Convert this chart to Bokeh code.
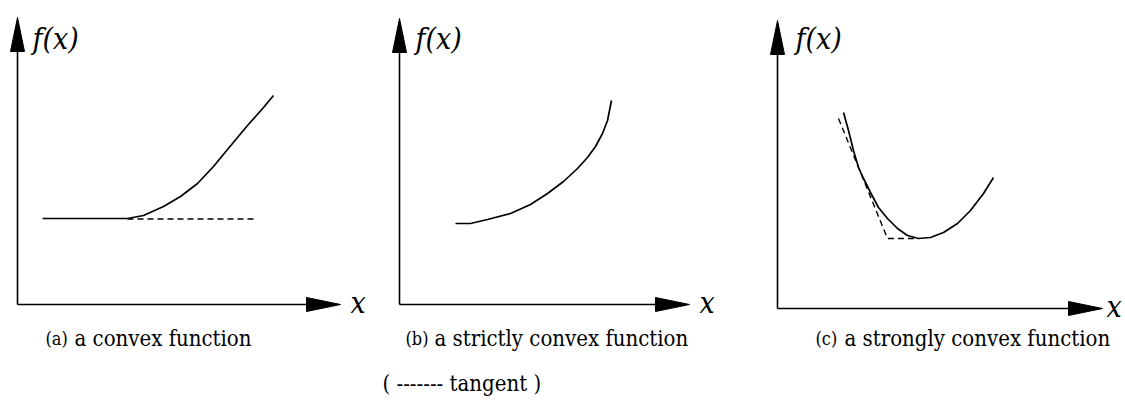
from bokeh.plotting import figure
from bokeh.layouts import row
from bokeh.models import Range1d
from bokeh.core.properties import value
from bokeh.embed import file_html
from bokeh.resources import INLINE

# Curve samples for each panel; units are relative to the axes' corner.
# (a) convex: flat, then rising
a_x = [2.5, 11.0, 12.6, 14.6, 16.3, 18.0, 19.6, 21.0, 23.0, 24.6, 25.6]
a_f = [8.6, 8.6, 8.9, 9.8, 10.8, 12.1, 13.8, 15.5, 17.9, 19.7, 20.9]
a_tan_x = [11.0, 24.0]
a_tan_f = [8.55, 8.55]

# (b) strictly convex
b_x = [5.6, 7.1, 8.8, 11.1, 13.1, 14.8, 16.4, 17.8, 18.8, 19.6, 20.3, 20.8, 21.2]
b_f = [8.1, 8.1, 8.5, 9.1, 10.0, 11.1, 12.3, 13.6, 14.7, 15.8, 17.1, 18.4, 20.4]

# (c) strongly convex, with two tangent pieces
c_x = [6.6, 7.1, 7.6, 8.1, 8.6, 9.3, 10.1, 11.0, 12.0, 13.0, 14.1, 15.3, 16.6, 18.0, 19.3, 20.6, 21.6]
c_f = [19.6, 17.8, 15.8, 14.1, 13.0, 11.6, 10.1, 9.0, 8.0, 7.3, 7.0, 7.1, 7.6, 8.5, 9.8, 11.5, 13.1]
c_tan_x = [6.1, 11.0, 14.1]
c_tan_f = [19.0, 7.0, 7.0]

tags = ["(a)", "(b)", "(c)"]
captions = ["a convex function", "a strictly convex function", "a strongly convex function"]
y_label = "f(x)"
x_label = "x"
legend_text = "( ------- tangent )"

# ---- layout (pixels) ----
PANEL_W, H = 375, 405
PX = 10.0  # pixels per unit
SERIF = value("DejaVu Serif Condensed")

panels = [
    dict(left=0, ox=17, oy=304, xtip=340, ytip=17, cap=45, fx=32, xl=350,
         xs=a_x, fs=a_f, tx=a_tan_x, tf=a_tan_f),
    dict(left=375, ox=399, oy=304, xtip=689, ytip=18, cap=405, fx=415, xl=699,
         xs=b_x, fs=b_f, tx=None, tf=None),
    dict(left=750, ox=777, oy=308, xtip=1102, ytip=20, cap=815, fx=795, xl=1106,
         xs=c_x, fs=c_f, tx=c_tan_x, tf=c_tan_f),
]

figs = []
for i, pn in enumerate(panels):
    ox, oy = pn["ox"], pn["oy"]
    ux = lambda px: (px - ox) / PX
    uy = lambda py: (oy - py) / PX
    p = figure(width=PANEL_W, height=H,
               x_range=Range1d(ux(pn["left"]), ux(pn["left"] + PANEL_W)),
               y_range=Range1d(uy(H), uy(0)),
               output_backend="svg", toolbar_location=None, min_border=0)
    p.axis.visible = False
    p.grid.visible = False
    p.outline_line_color = None
    p.background_fill_color = "white"
    p.border_fill_color = "white"

    # axes with filled arrow heads
    xt, yt = ux(pn["xtip"]), uy(pn["ytip"])
    head_len, head_w = 3.4, 0.7
    p.line([0, 0], [0, yt - head_len + 0.2], line_color="black", line_width=1.6)
    p.line([0, xt - head_len + 0.2], [0, 0], line_color="black", line_width=1.6)
    p.patch([-head_w, head_w, 0], [yt - head_len, yt - head_len, yt],
            fill_color="black", line_color="black", line_width=1)
    p.patch([xt - head_len, xt - head_len, xt], [-head_w, head_w, 0],
            fill_color="black", line_color="black", line_width=1)

    # function curve and tangent
    p.line(pn["xs"], pn["fs"], line_color="black", line_width=1.7)
    if pn["tx"] is not None:
        p.line(pn["tx"], pn["tf"], line_color="black", line_width=1.4,
               line_dash="6 4")

    # axis names
    p.text(x=[ux(pn["fx"])], y=[uy(38)], text=[y_label], text_font=SERIF,
           text_font_size="30px", text_font_style="italic",
           text_baseline="alphabetic", text_align="left", text_color="black")
    p.text(x=[ux(pn["xl"])], y=[uy(pn["oy"] - 2)], text=[x_label], text_font=SERIF,
           text_font_size="30px", text_font_style="italic",
           text_baseline="alphabetic", text_align="left", text_color="black")

    # caption: small tag + description
    p.text(x=[ux(pn["cap"])], y=[uy(338)], text=[tags[i]], text_font=SERIF,
           text_font_size="18px", text_baseline="alphabetic", text_align="left",
           text_color="black")
    p.text(x=[ux(pn["cap"] + 29)], y=[uy(338)], text=[captions[i]], text_font=SERIF,
           text_font_size="22px", text_baseline="alphabetic", text_align="left",
           text_color="black")

    if i == 1:
        p.text(x=[ux(382)], y=[uy(383)], text=[legend_text], text_font=SERIF,
               text_font_size="22px", text_baseline="alphabetic", text_align="left",
               text_color="black")
    figs.append(p)

layout = row(*figs, spacing=0)
open("out.html", "w").write(file_html(layout, INLINE))
